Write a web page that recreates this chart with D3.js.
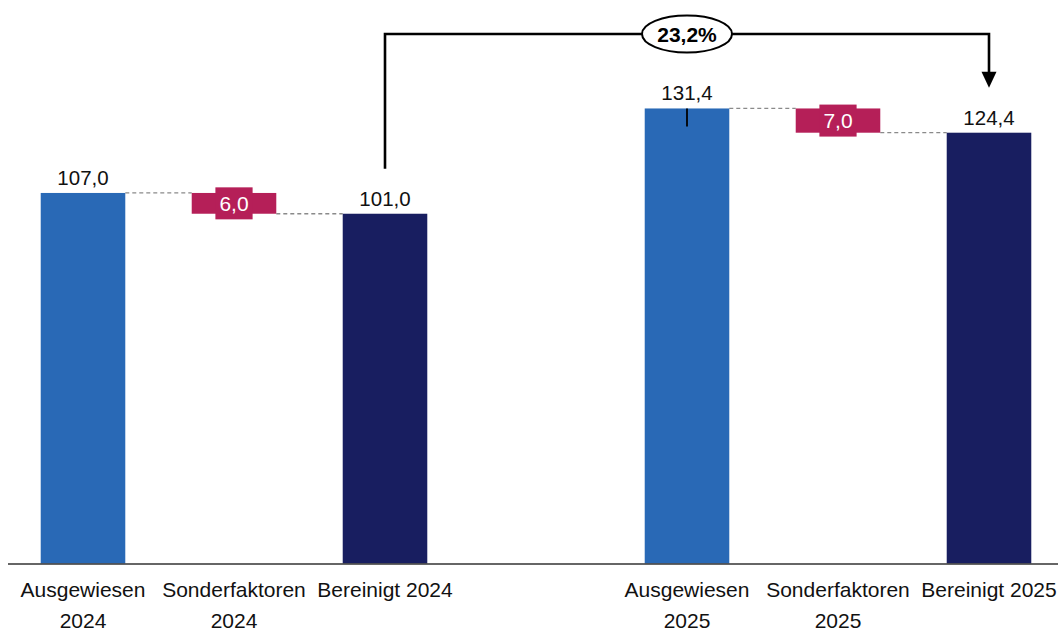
<!DOCTYPE html>
<html lang="de">
<head>
<meta charset="utf-8">
<script src="https://cdn.jsdelivr.net/npm/d3@7"></script>
<style>
  html, body { margin: 0; padding: 0; background: #fff; }
  svg { display: block; font-family: "Liberation Sans", Arial, Helvetica, sans-serif; }
</style>
</head>
<body>
<svg id="chart" width="1058" height="630"></svg>
<script>
// Bridge: reported -> special items -> adjusted, for 2024 and 2025
const slotKeys = ["a24", "s24", "b24", "gap", "a25", "s25", "b25"];
const slotTypes = ["reported", "delta", "adjusted", "gap", "reported", "delta", "adjusted"];
const categoryLabels = [
  ["Ausgewiesen", "2024"],
  ["Sonderfaktoren", "2024"],
  ["Bereinigt 2024"],
  [],
  ["Ausgewiesen", "2025"],
  ["Sonderfaktoren", "2025"],
  ["Bereinigt 2025"]
];
const values = [107.0, -6.0, 101.0, null, 131.4, -7.0, 124.4];
const growthLabel = "23,2%";
const growthFrom = "b24";
const growthTo = "b25";

const colors = { reported: "#2969b6", adjusted: "#181e60", delta: "#b51f58" };

const svg = d3.select("#chart");
const baseY = 563.5;

const x = d3.scaleBand()
  .domain(slotKeys)
  .range([7.5, 1064.5])
  .paddingInner(0.44)
  .paddingOuter(0.22);

const y = d3.scaleLinear()
  .domain([0, 160])
  .range([baseY, baseY - 160 * 3.463]);

const fmt = v => d3.format(".1f")(v).replace(".", ",");
const cx = k => x(k) + x.bandwidth() / 2;

// Bar extents: totals stand on the baseline, deltas float between running totals
const bars = [];
let running = 0;
slotKeys.forEach((k, i) => {
  const t = slotTypes[i];
  if (t === "gap") return;
  const v = values[i];
  if (t === "delta") {
    bars.push({ key: k, type: t, value: v, y0: running + v, y1: running, color: colors.delta });
    running += v;
  } else {
    bars.push({ key: k, type: t, value: v, y0: 0, y1: v, color: colors[t] });
    running = v;
  }
});

// Dashed connectors between neighbouring bars
const connectors = [];
for (let i = 0; i < bars.length - 1; i++) {
  const a = bars[i], b = bars[i + 1];
  if (slotKeys.indexOf(b.key) - slotKeys.indexOf(a.key) !== 1) continue;
  const level = a.type === "delta" ? a.y0 : a.y1;
  connectors.push({ x1: x(a.key) + x.bandwidth(), x2: x(b.key), v: level });
}
svg.append("g")
  .selectAll("line")
  .data(connectors)
  .join("line")
  .attr("x1", d => d.x1)
  .attr("x2", d => d.x2)
  .attr("y1", d => y(d.v))
  .attr("y2", d => y(d.v))
  .attr("stroke", "#8a8a8a")
  .attr("stroke-width", 1.3)
  .attr("stroke-dasharray", "4,3");

// Bars
svg.append("g")
  .selectAll("rect")
  .data(bars)
  .join("rect")
  .attr("x", d => x(d.key))
  .attr("width", x.bandwidth())
  .attr("y", d => y(d.y1))
  .attr("height", d => y(d.y0) - y(d.y1))
  .attr("fill", d => d.color);

// Value labels above totals
svg.append("g")
  .selectAll("text")
  .data(bars.filter(d => d.type !== "delta"))
  .join("text")
  .attr("x", d => cx(d.key))
  .attr("y", d => y(d.y1) - 8)
  .attr("text-anchor", "middle")
  .attr("font-size", "20.5px")
  .attr("fill", "#111")
  .text(d => fmt(d.value));

// Delta labels in a red box on the floating bar
const deltaG = svg.append("g")
  .selectAll("g")
  .data(bars.filter(d => d.type === "delta"))
  .join("g")
  .attr("transform", d => `translate(${cx(d.key)},${(y(d.y0) + y(d.y1)) / 2})`);
deltaG.append("rect").attr("fill", colors.delta);
deltaG.append("text")
  .attr("text-anchor", "middle")
  .attr("dy", "0.36em")
  .attr("font-size", "21px")
  .attr("fill", "#fff")
  .text(d => fmt(Math.abs(d.value)));
deltaG.each(function () {
  const g = d3.select(this);
  const w = g.select("text").node().getBBox().width;
  g.select("rect")
    .attr("x", -w / 2 - 4)
    .attr("width", w + 8)
    .attr("y", -16)
    .attr("height", 32);
});

// Short marker on top of the 2025 reported bar
const a25 = bars.find(d => d.key === "a25");
svg.append("line")
  .attr("x1", cx("a25"))
  .attr("x2", cx("a25"))
  .attr("y1", y(a25.y1))
  .attr("y2", y(a25.y1) + 18)
  .attr("stroke", "#000")
  .attr("stroke-width", 1.8);

// Baseline axis
const axis = svg.append("g")
  .attr("transform", `translate(0,${baseY})`)
  .call(d3.axisBottom(x).tickSize(0).tickFormat(""));
axis.select(".domain").attr("stroke", "#333").attr("stroke-width", 1.6);

// Category labels (one or two lines)
const catG = svg.append("g")
  .selectAll("text")
  .data(slotKeys.map((k, i) => ({ key: k, lines: categoryLabels[i] })))
  .join("text")
  .attr("x", d => cx(d.key))
  .attr("y", 597)
  .attr("text-anchor", "middle")
  .attr("font-size", "21px")
  .attr("fill", "#111");
catG.selectAll("tspan")
  .data(d => d.lines.map((l, j) => ({ l, j, x: cx(d.key) })))
  .join("tspan")
  .attr("x", d => d.x)
  .attr("dy", d => d.j === 0 ? 0 : 30.5)
  .text(d => d.l);

// Growth bracket between the two adjusted bars
const topY = 34;
const fromX = cx(growthFrom);
const toX = cx(growthTo);
const fromBar = bars.find(d => d.key === growthFrom);
const toBar = bars.find(d => d.key === growthTo);
const arrowTip = y(toBar.y1) - 45;
svg.append("path")
  .attr("d", `M${fromX},${y(fromBar.y1) - 45} V${topY} H${toX} V${arrowTip - 14}`)
  .attr("fill", "none")
  .attr("stroke", "#000")
  .attr("stroke-width", 2.6);
svg.append("path")
  .attr("d", `M${toX - 7.5},${arrowTip - 16} L${toX + 7.5},${arrowTip - 16} L${toX},${arrowTip} Z`)
  .attr("fill", "#000");

// Growth rate badge on the bracket
const badgeX = cx("a25");
svg.append("ellipse")
  .attr("cx", badgeX)
  .attr("cy", topY)
  .attr("rx", 45)
  .attr("ry", 18.5)
  .attr("fill", "#fff")
  .attr("stroke", "#000")
  .attr("stroke-width", 2);
svg.append("text")
  .attr("x", badgeX)
  .attr("y", topY)
  .attr("dy", "0.36em")
  .attr("text-anchor", "middle")
  .attr("font-size", "21px")
  .attr("font-weight", "bold")
  .attr("fill", "#000")
  .text(growthLabel);
</script>
</body>
</html>
